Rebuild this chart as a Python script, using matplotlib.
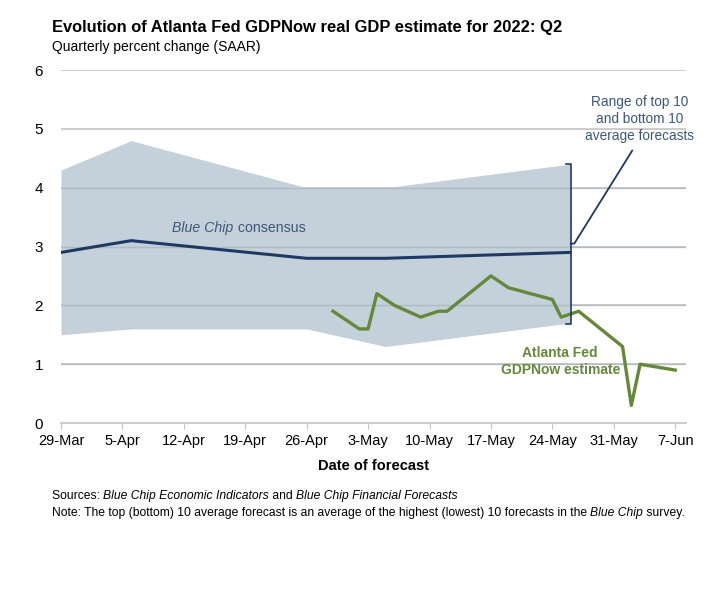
import matplotlib
matplotlib.use("Agg")
import matplotlib.pyplot as plt
import matplotlib.dates as mdates
import datetime as dt

plt.rcParams["font.family"] = ["Liberation Sans", "DejaVu Sans"]

# Blue Chip survey dates, top/bottom 10 range and consensus.
BAND_DATES = ["2022-03-29", "2022-04-06", "2022-04-26", "2022-05-05", "2022-05-26"]
BAND_TOP = [4.3, 4.8, 4.0, 4.0, 4.4]
BAND_BOTTOM = [1.5, 1.6, 1.6, 1.3, 1.7]
CONSENSUS = [2.9, 3.1, 2.8, 2.8, 2.9]

# GDPNow nowcasts.
NOW_DATES = ["2022-04-29", "2022-05-02", "2022-05-03", "2022-05-04", "2022-05-06",
             "2022-05-09", "2022-05-11", "2022-05-12", "2022-05-17", "2022-05-19",
             "2022-05-24", "2022-05-25", "2022-05-27", "2022-06-01", "2022-06-02",
             "2022-06-03", "2022-06-07"]
NOW_VALUES = [1.9, 1.6, 1.6, 2.2, 2.0, 1.8, 1.9, 1.9, 2.5, 2.3,
              2.1, 1.8, 1.9, 1.3, 0.3, 1.0, 0.9]

TICK_DATES = ["2022-03-29", "2022-04-05", "2022-04-12", "2022-04-19", "2022-04-26",
              "2022-05-03", "2022-05-10", "2022-05-17", "2022-05-24", "2022-05-31",
              "2022-06-07"]
TICK_LABELS = ["29-Mar", "5-Apr", "12-Apr", "19-Apr", "26-Apr", "3-May",
               "10-May", "17-May", "24-May", "31-May", "7-Jun"]

NAVY = "#1d3a62"
GREEN = "#66883a"
BAND = "#c5d1da"
LABEL_BLUE = "#3b5878"
GRID = "#c4c4c4"


def to_dates(values):
    return [dt.datetime.strptime(v, "%Y-%m-%d") for v in values]


def mixed_line(fig, x, y, parts, size):
    # Draw text pieces one after another on a shared baseline.
    renderer = fig.canvas.get_renderer()
    for txt, st in parts:
        t = fig.text(x, y, txt, fontsize=size, style=st, ha="left", va="baseline")
        bb = t.get_window_extent(renderer=renderer)
        x += bb.width / fig.bbox.width


def plot_gdpnow() -> None:
    band_x = to_dates(BAND_DATES)
    now_x = to_dates(NOW_DATES)
    ticks = to_dates(TICK_DATES)

    fig = plt.figure(figsize=(7.2, 5.9), dpi=100)
    ax = fig.add_axes([0.0847, 0.283, 0.8677, 0.5983])

    ax.fill_between(band_x, BAND_BOTTOM, BAND_TOP, color=BAND, lw=0, zorder=1)
    for y in range(1, 7):
        ax.axhline(y, color=GRID, lw=1.2, zorder=0.5)
    # grid lines show through the band in the original
    for y in range(1, 5):
        ax.axhline(y, color="#9aa6ae", lw=1.0, alpha=0.5, zorder=1.5)

    ax.plot(band_x, CONSENSUS, color=NAVY, lw=2.2, zorder=3)
    ax.plot(now_x, NOW_VALUES, color=GREEN, lw=2.4, zorder=4)

    x0 = ticks[0]
    d0 = mdates.date2num(x0)
    ax.set_xlim(x0, x0 + dt.timedelta(days=71.2))
    ax.set_ylim(0, 6)
    ax.set_xticks(ticks)
    ax.set_xticklabels(TICK_LABELS, fontsize=10.5)
    ax.set_yticks(range(0, 7))
    ax.set_yticklabels([str(v) for v in range(0, 7)], fontsize=11)
    ax.tick_params(axis="x", length=4, color=GRID, pad=4)
    ax.tick_params(axis="y", length=0, pad=13)
    for s in ["top", "right", "left"]:
        ax.spines[s].set_visible(False)
    ax.spines["bottom"].set_color(GRID)
    ax.spines["bottom"].set_linewidth(1.2)
    ax.set_xlabel("Date of forecast", fontsize=10.5, fontweight="bold", labelpad=8)

    # bracket for the range
    bx = mdates.date2num(band_x[-1]) + 0.1
    ax.plot([bx - 0.5, bx, bx, bx - 0.5], [4.4, 4.4, 1.68, 1.68], color=NAVY, lw=1.2, zorder=5)
    ax.plot([bx, bx + 0.4, d0 + 65.1], [3.05, 3.05, 4.63], color=NAVY, lw=1.3, zorder=5)
    ax.text(d0 + 65.9, 5.17, "Range of top 10\nand bottom 10\naverage forecasts",
            ha="center", va="center", fontsize=9.8, color=LABEL_BLUE, linespacing=1.25)

    # Blue Chip consensus label (italic + regular)
    t1 = ax.text(d0 + 12.7, 3.32, "Blue Chip", style="italic",
                 fontsize=10.2, color=LABEL_BLUE, ha="left", va="center")
    ax.annotate(" consensus", xy=(1, 0), xycoords=t1, fontsize=10.2,
                color=LABEL_BLUE, ha="left", va="bottom")

    ax.text(d0 + 56.9, 1.04, "Atlanta Fed\nGDPNow estimate", ha="center",
            va="center", fontsize=10, fontweight="bold", color=GREEN, linespacing=1.3)

    fig.text(0.072, 0.953, "Evolution of Atlanta Fed GDPNow real GDP estimate for 2022: Q2",
             fontsize=11.9, fontweight="bold", ha="left", va="center")
    fig.text(0.072, 0.920, "Quarterly percent change (SAAR)", fontsize=10,
             ha="left", va="center")

    # footnotes with mixed styles
    fs = 8.75
    parts1 = [("Sources: ", "normal"), ("Blue Chip Economic Indicators", "italic"),
              (" and ", "normal"), ("Blue Chip Financial Forecasts", "italic")]
    parts2 = [("Note: The top (bottom) 10 average forecast is an average of the highest "
               "(lowest) 10 forecasts in the ", "normal"), ("Blue Chip", "italic"),
              (" survey.", "normal")]
    mixed_line(fig, 0.072, 0.155, parts1, fs)
    mixed_line(fig, 0.072, 0.126, parts2, fs)

    fig.savefig("out.png", dpi=100)
    plt.close(fig)


if __name__ == "__main__":
    plot_gdpnow()
